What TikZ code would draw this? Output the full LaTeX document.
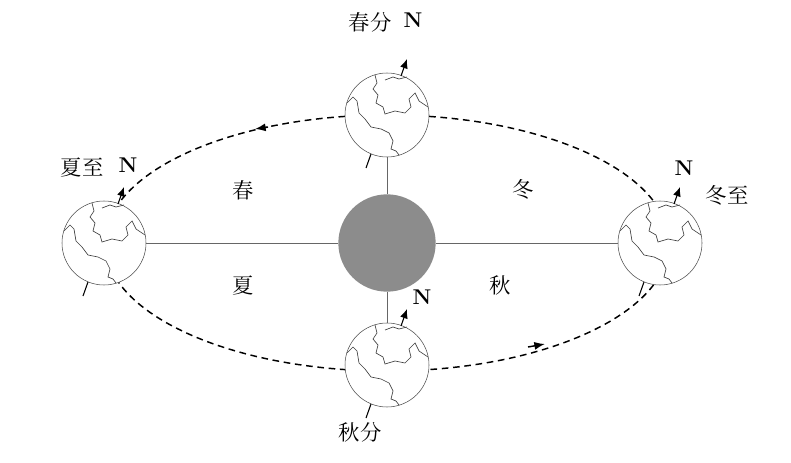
\documentclass[tikz,border=0pt]{standalone}
\usepackage{fontspec}
\newfontfamily\cjk{Noto Serif CJK SC}
\usetikzlibrary{arrows.meta}
\tikzset{
  earth/.style={circle, draw=black!70, minimum size=63pt, inner sep=0pt},
  orbit/.style={dashed, dash pattern=on 5pt off 3.5pt, line width=1.1pt},
  axisarrow/.style={-{Latex[length=7pt,width=6pt]}, thick},
  lab/.style={font=\cjk\fontsize{16}{16}\selectfont},
  nlab/.style={font=\bfseries\fontsize{16}{16}\selectfont}
}
\begin{document}
\begin{tikzpicture}[x=0.75pt,y=-0.75pt]
\useasboundingbox (0,0) rectangle (791,463);
% orbit
\draw [orbit] (387,243) ellipse (282 and 128);
\draw [-{Latex[length=8pt,width=6pt]}, line width=1.1pt] (268,127) -- (255,129);
\draw [-{Latex[length=8pt,width=6pt]}, line width=1.1pt] (528,347) -- (545,344);
% sun and lines
\node [circle, fill=black!45, minimum size=73pt, inner sep=0pt] (sun) at (387,243) {};
\node [earth, fill=white] (spring) at (387,115) {};
\node [earth, fill=white] (autumn) at (387,365) {};
\node [earth, fill=white] (summer) at (104,243) {};
\node [earth, fill=white] (winter) at (660,243) {};
\draw [black!60] (summer) -- (sun) -- (winter);
\draw [black!60] (spring) -- (sun) -- (autumn);
% continents and axes
\foreach \cx/\cy/\nm in {387/115/spring, 387/365/autumn, 104/243/summer, 660/243/winter} {
  \begin{scope}[shift={(\cx,\cy)}]
    \draw [black!75, line width=0.5pt] (-12,-40) -- (-10,-32) -- (-14,-26) -- (-9,-20) -- (-11,-12) -- (-4,-8) -- (-2,-1) -- (8,-4) -- (18,-2) -- (24,-8) -- (22,-16) -- (28,-22) -- (32,-14) -- (41,-8);
    \draw [black!75, line width=0.5pt] (-2,-35) -- (6,-38) -- (12,-36) -- (20,-38);
    \draw [black!75, line width=0.5pt] (-40,-12) -- (-34,-18) -- (-30,-14) -- (-28,-2) -- (-22,4) -- (-16,12) -- (-6,14) -- (2,18) -- (6,26) -- (4,34) -- (9,36) -- (12,40);
    \draw [axisarrow] (14,-39) -- (20,-56);
    \draw [thick] (-16,39) -- (-21,53);
  \end{scope}
}
% labels
\node [lab] (chun) at (243,190) {春};
\node [lab] (dong) at (523,190) {冬};
\node [lab] (xia) at (243,285) {夏};
\node [lab] (qiu) at (500,285) {秋};
\node [lab] (chunfen) at (370,22) {春分};
\node [nlab] (n1) at (413,20) {N};
\node [lab] (xiazhi) at (82,167) {夏至};
\node [nlab] (n2) at (128,165) {N};
\node [nlab] (n3) at (684,168) {N};
\node [lab] (dongzhi) at (727,196) {冬至};
\node [nlab] (n4) at (422,297) {N};
\node [lab] (qiufen) at (360,432) {秋分};
\end{tikzpicture}
\end{document}
